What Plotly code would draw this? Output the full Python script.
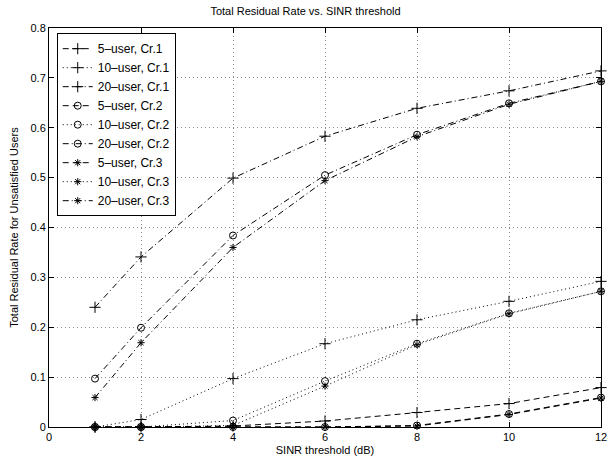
import plotly.graph_objects as go

x = [1, 2, 4, 6, 8, 10, 12]

# 5-user
u5_cr1 = [0, 0, 0.002, 0.012, 0.029, 0.047, 0.079]
u5_cr2 = [0, 0, 0, 0, 0.003, 0.026, 0.059]
u5_cr3 = [0, 0, 0, 0, 0.002, 0.025, 0.058]
# 10-user
u10_cr1 = [0, 0.015, 0.097, 0.167, 0.215, 0.252, 0.292]
u10_cr2 = [0, 0, 0.013, 0.092, 0.167, 0.228, 0.272]
u10_cr3 = [0, 0, 0.003, 0.082, 0.165, 0.227, 0.272]
# 20-user
u20_cr1 = [0.24, 0.341, 0.499, 0.583, 0.639, 0.674, 0.714]
u20_cr2 = [0.097, 0.199, 0.384, 0.505, 0.586, 0.649, 0.693]
u20_cr3 = [0.059, 0.169, 0.36, 0.494, 0.582, 0.647, 0.693]

names = ["5–user, Cr.1", "10–user, Cr.1", "20–user, Cr.1",
         "5–user, Cr.2", "10–user, Cr.2", "20–user, Cr.2",
         "5–user, Cr.3", "10–user, Cr.3", "20–user, Cr.3"]
series = [u5_cr1, u10_cr1, u20_cr1, u5_cr2, u10_cr2, u20_cr2, u5_cr3, u10_cr3, u20_cr3]
dashes = {"5": "6px,4px", "10": "1px,3px", "20": "6px,3px,1px,3px"}
symbols = {"1": "cross-thin-open", "2": "circle-open", "3": "asterisk-open"}
sizes = {"1": 8, "2": 7, "3": 6}

fig = go.Figure()
for name, y in zip(names, series):
    users = name.split("–")[0]
    cr = name[-1]
    fig.add_trace(go.Scatter(
        x=x, y=y, name=name, mode="lines+markers",
        line=dict(color="black", width=1, dash=dashes[users]),
        marker=dict(symbol=symbols[cr], size=sizes[cr], color="black",
                    line=dict(color="black", width=1)),
        cliponaxis=False,
    ))

axis_common = dict(
    showline=True, linecolor="black", linewidth=1, mirror="ticks",
    ticks="inside", ticklen=5, tickcolor="black",
    showgrid=True, gridcolor="#8c8c8c", gridwidth=1, griddash="1px,3px",
    zeroline=False, tickfont=dict(size=11, color="black"), automargin=False,
)

fig.update_layout(
    width=611, height=457,
    margin=dict(l=49, r=10, t=28, b=30),
    paper_bgcolor="white", plot_bgcolor="white",
    font=dict(family="Liberation Sans, Arial, sans-serif", size=12, color="black"),
    title=dict(text="Total Residual Rate vs. SINR threshold", x=0.5, xanchor="center",
               y=0.975, yanchor="middle", font=dict(size=11)),
    xaxis=dict(range=[0, 12], tickvals=[0, 2, 4, 6, 8, 10, 12],
               title=dict(text="SINR threshold (dB)", font=dict(size=11), standoff=4),
               **axis_common),
    yaxis=dict(range=[0, 0.8], tickvals=[0, 0.1, 0.2, 0.3, 0.4, 0.5, 0.6, 0.7, 0.8],
               ticktext=["0", "0.1", "0.2", "0.3", "0.4", "0.5", "0.6", "0.7", "0.8"],
               title=dict(text="Total Residual Rate for Unsatisfied Users", font=dict(size=11), standoff=9),
               **axis_common),
    legend=dict(x=0.014, y=0.987, xanchor="left", yanchor="top",
                bordercolor="black", borderwidth=1, bgcolor="white",
                font=dict(size=12), itemwidth=30, tracegroupgap=0),
    showlegend=True,
)

fig.write_html("out.html", config={"displayModeBar": False},
               post_script="document.body.style.margin='0';document.body.style.padding='0';document.body.style.overflow='hidden';")
